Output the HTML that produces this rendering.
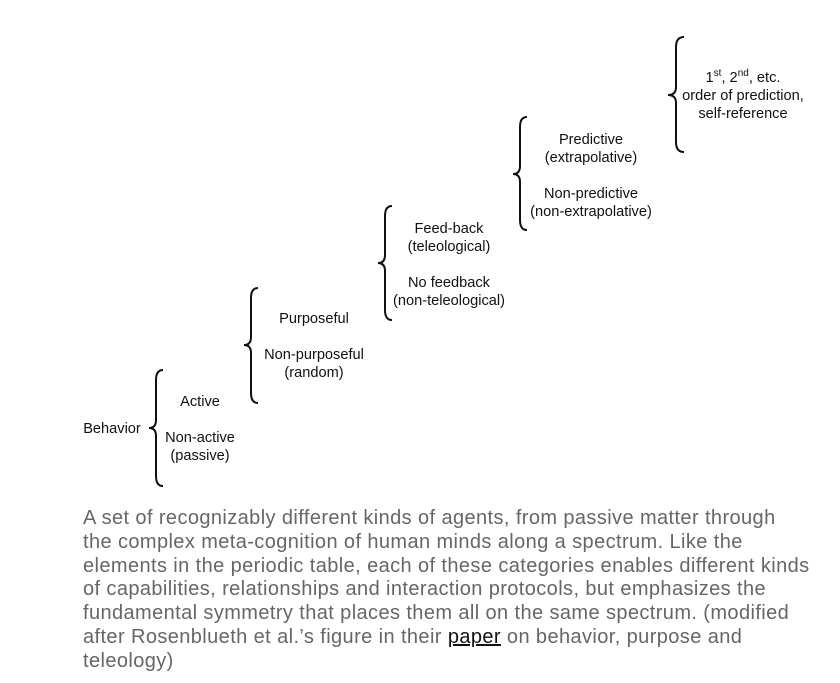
<!DOCTYPE html>
<html><head><meta charset="utf-8"><style>
body{margin:0;background:#fff;width:840px;height:683px;overflow:hidden;position:relative}
svg{position:absolute;left:0;top:0}
.cap{position:absolute;left:83px;top:507px;width:757px;font-family:"Liberation Sans",sans-serif;font-size:20px;letter-spacing:0.4px;line-height:23.8px;color:#666;white-space:nowrap}
.cap a{color:#111;text-decoration:underline}
</style></head><body>
<svg width="840" height="500" font-family="Liberation Sans, sans-serif" font-size="14.6" fill="#111" text-anchor="middle">
<g fill="none" stroke="#111" stroke-width="2">
<path d="M163,370 Q156,370 156,380 L156,420 Q156,428 149,428 Q156,428 156,436 L156,476 Q156,486 163,486"/>
<path d="M258,288 Q251,288 251,298 L251,337 Q251,345 244,345 Q251,345 251,353 L251,393 Q251,403 258,403"/>
<path d="M392,206 Q385,206 385,216 L385,255 Q385,263 378,263 Q385,263 385,271 L385,310 Q385,320 392,320"/>
<path d="M527,117 Q520,117 520,127 L520,166 Q520,174 513,174 Q520,174 520,182 L520,220 Q520,230 527,230"/>
<path d="M684,37 Q676,37 676,47 L676,87 Q676,95 668,95 Q676,95 676,103 L676,142 Q676,152 684,152"/>
</g>
<text x="112" y="433">Behavior</text>
<text x="200" y="406">Active</text>
<text x="200" y="442">Non-active</text>
<text x="200" y="460">(passive)</text>
<text x="314" y="323">Purposeful</text>
<text x="314" y="359">Non-purposeful</text>
<text x="314" y="377">(random)</text>
<text x="449" y="233">Feed-back</text>
<text x="449" y="251">(teleological)</text>
<text x="449" y="287">No feedback</text>
<text x="449" y="305">(non-teleological)</text>
<text x="591" y="144">Predictive</text>
<text x="591" y="162">(extrapolative)</text>
<text x="591" y="198">Non-predictive</text>
<text x="591" y="216">(non-extrapolative)</text>
<text x="743" y="82">1<tspan font-size="10" dy="-6">st</tspan><tspan dy="6">, 2</tspan><tspan font-size="10" dy="-6">nd</tspan><tspan dy="6">, etc.</tspan></text>
<text x="743" y="100">order of prediction,</text>
<text x="743" y="118">self-reference</text>
</svg>
<div class="cap">A set of recognizably different kinds of agents, from passive matter through<br>the complex meta-cognition of human minds along a spectrum. Like the<br>elements in the periodic table, each of these categories enables different kinds<br>of capabilities, relationships and interaction protocols, but emphasizes the<br>fundamental symmetry that places them all on the same spectrum. (modified<br>after Rosenblueth et al.’s figure in their <a>paper</a> on behavior, purpose and<br>teleology)</div>
</body></html>
